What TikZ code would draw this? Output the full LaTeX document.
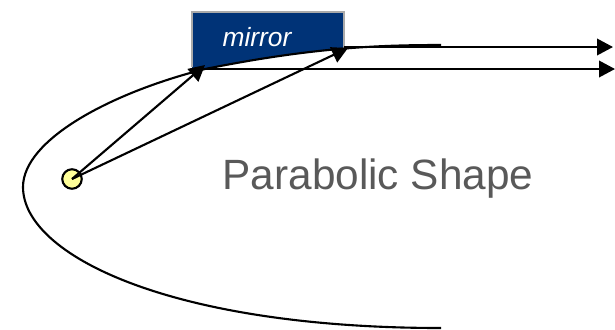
\documentclass[tikz,border=0pt]{standalone}
\usepackage{fontspec}
\setmainfont{Liberation Sans}
\usetikzlibrary{
  arrows.meta,
  positioning
}
\definecolor{MirrorBlue}{RGB}{0,51,119}
\definecolor{MirrorEdge}{RGB}{170,170,170}
\definecolor{SourceYellow}{RGB}{255,255,153}
\definecolor{LabelGray}{RGB}{89,89,89}
\tikzset{
  mirrorlabel/.style={text=white,font=\fontsize{15}{18}\selectfont\itshape,inner sep=0pt},
  shapelabel/.style={text=LabelGray,font=\fontsize{24.1}{28}\selectfont,inner sep=0pt},
  sourcenode/.style={circle,draw=black,fill=SourceYellow,line width=1.2pt,minimum size=3.9mm,inner sep=0pt},
  rayarrow/.style={-{Triangle[length=3.2mm,width=3.3mm]},line width=1.2pt,draw=black},
  parabolaline/.style={line width=1.2pt,draw=black}
}
\begin{document}
\begin{tikzpicture}[x=0.02cm,y=-0.02cm]
\useasboundingbox (0,0) rectangle (615,329);
\fill[MirrorBlue] (192,12) -- (344,12) -- (344,49) .. controls (295,52) and (250,59) .. (205,69) -- (192,69) -- cycle;
\draw[MirrorEdge,line width=0.8pt] (192,67) -- (192,12) -- (344,12) -- (344,49);

\node[mirrorlabel] (mirror) at (257,37) {mirror};
\node[shapelabel] (shape) at (378,179) {Parabolic Shape};

\coordinate (hitA) at (205,65);
\coordinate (hitB) at (348,48);
\coordinate (beamA) at (615,69);
\coordinate (beamB) at (613,47);
\coordinate (rimA) at (441,45);
\coordinate (rimB) at (441,328);

\draw[parabolaline] (rimA) .. controls (375,45) and (310,48) .. (205,69)
  .. controls (110,93) and (23,140) .. (23,187)
  .. controls (23,255) and (170,328) .. (rimB);

\node[sourcenode] (source) at (72,179) {};
\foreach \h in {hitA,hitB}{
  \draw[rayarrow] (source.center) -- (\h);
}
\draw[rayarrow] (205,69) -- (beamA);
\draw[rayarrow] (344,47) -- (beamB);
\end{tikzpicture}
\end{document}
